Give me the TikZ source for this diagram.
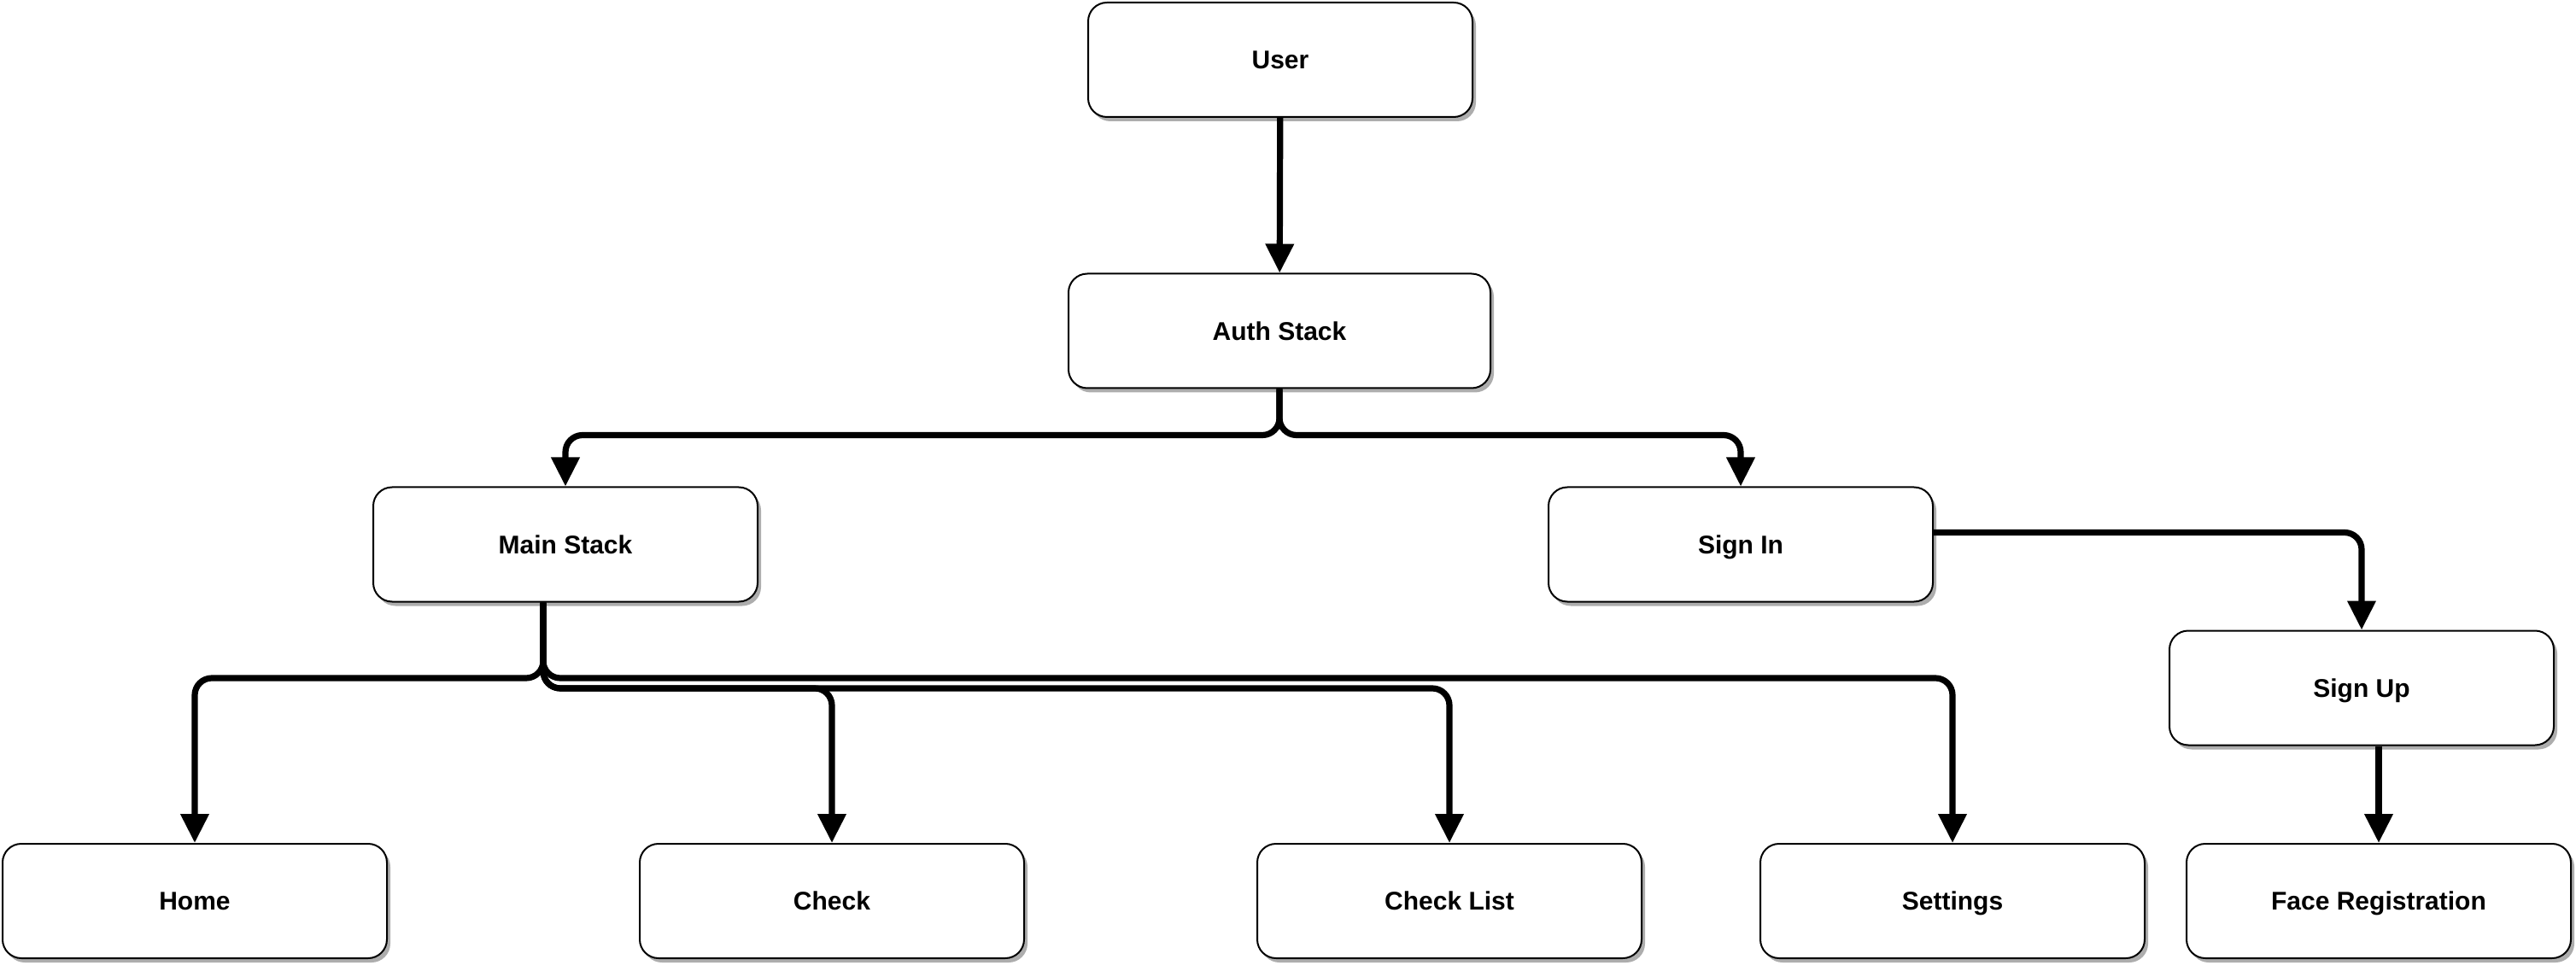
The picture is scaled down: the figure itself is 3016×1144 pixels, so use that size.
\documentclass[tikz,border=0pt]{standalone}
\usepackage{fontspec}
\setmainfont{Liberation Sans}
\usetikzlibrary{arrows.meta,shadows}
\begin{document}
\begin{tikzpicture}[x=0.5pt,y=-0.5pt,
  box/.style={draw=black, line width=1pt, rounded corners=11pt, fill=white,
    minimum width=225pt, minimum height=67pt, inner sep=0pt,
    text height=10.8pt, text depth=0pt,
    font=\fontsize{15}{18}\selectfont\bfseries,
    drop shadow={shadow xshift=2pt,shadow yshift=-2.5pt,fill=black!40,opacity=0.8}},
  conn/.style={line width=3.6pt, rounded corners=10pt, -{Triangle[length=17pt,width=16pt]}}]
\useasboundingbox (0,0) rectangle (3016,1144);

\node[box] (user) at (1499,70) {User};
\node[box, minimum width=247pt] (auth) at (1498,387.5) {Auth Stack};
\node[box] (main) at (662,637.5) {Main Stack};
\node[box] (signin) at (2038,637.5) {Sign In};
\node[box] (signup) at (2765,805.5) {Sign Up};
\node[box] (home) at (228,1055) {Home};
\node[box] (check) at (974,1055) {Check};
\node[box] (checklist) at (1697,1055) {Check List};
\node[box] (settings) at (2286,1055) {Settings};
\node[box] (face) at (2785,1055) {Face Registration};

\coordinate (ms) at ([xshift=-13pt]main.south);

\draw[conn] (user) -- (auth);
\draw[conn] (auth.south) -- ++(0,54) -| (main.north);
\draw[conn] (auth.south) -- ++(0,54) -| (signin.north);
\draw[conn] (ms) -- (ms |- 0,794) -| (home.north);
\draw[conn] (ms) -- (ms |- 0,794) -| (settings.north);
\draw[conn] (ms) -- (ms |- 0,806) -| (check.north);
\draw[conn] (ms) -- (ms |- 0,806) -| (checklist.north);
\draw[conn] ([yshift=7pt]signin.east) -| (signup.north);
\draw[conn] (signup.south -| face.north) -- (face.north);
\end{tikzpicture}
\end{document}
